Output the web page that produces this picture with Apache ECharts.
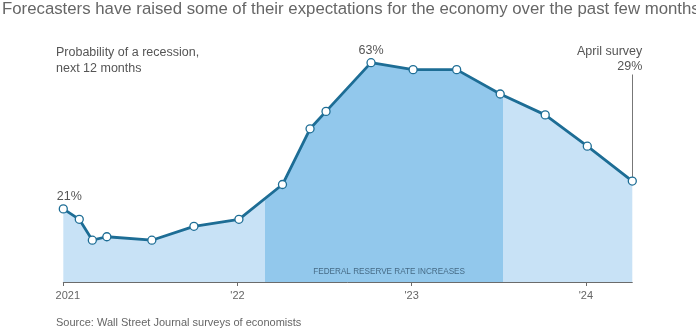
<!DOCTYPE html>
<html><head><meta charset="utf-8">
<script src="https://cdn.jsdelivr.net/npm/echarts@6/dist/echarts.min.js"></script>
<style>html,body{margin:0;padding:0;background:#fff}#chart{width:696px;height:330px}</style>
</head><body><div id="chart"></div>
<script>
// Survey timing, in months since January 2021
const surveyMonths = [0, 1.1, 2, 3, 6.1, 9, 12.1, 15.1, 17, 18.1, 21.2, 24.1, 27.1, 30.1, 33.2, 36.1, 39.2];
// Average probability of a recession within the next 12 months (%)
const recessionProb = [21, 18, 12, 13, 12, 16, 18, 28, 44, 49, 63, 61, 61, 54, 48, 39, 29];
const yearTicks = [0, 12, 24, 36];
const yearLabels = ['2021', "'22", "'23", "'24"];
// Federal Reserve hiking cycle, in the same month units
const fedHikeStart = 13.9;
const fedHikeEnd = 30.3;

const lineColor = '#1d6d95';
const lightFill = '#c8e2f6';
const darkFill = '#92c8ec';
const font = 'Liberation Sans, Arial, sans-serif';

const points = surveyMonths.map((m, i) => [m, recessionProb[i]]);
const lastIdx = points.length - 1;
const peakIdx = recessionProb.indexOf(Math.max(...recessionProb));

const chart = echarts.init(document.getElementById('chart'));

const lineData = points.map((p, i) => {
  const item = { value: p };
  if (i === 0 || i === peakIdx) {
    item.label = {
      show: true, position: 'top', distance: 1,
      offset: i === 0 ? [6, 0] : [0, 0],
      formatter: p[1] + '%', color: '#555', fontSize: 12.5, fontFamily: font
    };
  }
  return item;
});

chart.setOption({
  animation: false,
  title: [
    {
      text: 'Forecasters have raised some of their expectations for the economy over the past few months',
      left: 2, top: 1, padding: 0,
      textStyle: { color: '#666', fontSize: 16.8, fontWeight: 'normal', fontFamily: font }
    },
    {
      text: 'Source: Wall Street Journal surveys of economists',
      left: 56, top: 317, padding: 0,
      textStyle: { color: '#666', fontSize: 11, fontWeight: 'normal', fontFamily: font }
    }
  ],
  grid: { left: 63.3, right: 63.7, top: 38.3, bottom: 48 },
  xAxis: {
    type: 'value', min: 0, max: surveyMonths[lastIdx], interval: 12,
    splitLine: { show: false },
    axisLine: { show: true, lineStyle: { color: '#6b6b6b', width: 1 } },
    axisTick: { show: true, customValues: yearTicks, length: 4, lineStyle: { color: '#6b6b6b' } },
    axisLabel: {
      customValues: yearTicks, margin: 8, color: '#666', fontSize: 11, fontFamily: font,
      formatter: v => {
        const k = yearTicks.indexOf(v);
        if (k < 0) return '';
        return k === 0 ? '{first|' + yearLabels[k] + '}' : yearLabels[k];
      },
      rich: { first: { padding: [0, 0, 0, 9], color: '#666', fontSize: 11, fontFamily: font } }
    }
  },
  yAxis: { type: 'value', min: 0, max: 70, show: false, splitLine: { show: false } },
  visualMap: {
    type: 'piecewise', show: false, dimension: 0, seriesIndex: 0,
    pieces: [{ gte: fedHikeStart, lte: fedHikeEnd, color: darkFill }],
    outOfRange: { color: lightFill }
  },
  series: [
    {
      type: 'line', data: points, symbol: 'none', silent: true, z: 1,
      lineStyle: { width: 0 },
      areaStyle: { opacity: 1 }
    },
    {
      type: 'line', data: lineData, z: 3,
      symbol: 'circle', symbolSize: 8, showAllSymbol: true,
      itemStyle: { color: '#fff', borderColor: lineColor, borderWidth: 1.3 },
      lineStyle: { color: lineColor, width: 2.8 },
      markLine: {
        silent: true, symbol: 'none', z: 2,
        lineStyle: { color: '#777', width: 1, type: 'solid' },
        label: { show: false },
        data: [[{ coord: [surveyMonths[lastIdx], recessionProb[lastIdx]] },
                { coord: [surveyMonths[lastIdx], 59.6] }]]
      }
    }
  ]
});

// Text annotations placed in data space
const lastPx = chart.convertToPixel({ gridIndex: 0 }, points[lastIdx]);
const topPx = chart.convertToPixel({ gridIndex: 0 }, [surveyMonths[lastIdx], 59.6]);
const fedMid = chart.convertToPixel({ gridIndex: 0 }, [(fedHikeStart + fedHikeEnd) / 2, 0]);
chart.setOption({
  graphic: [
    {
      type: 'text', left: 56, top: 45, z: 10,
      style: {
        text: 'Probability of a recession,\nnext 12 months',
        fill: '#555', fontSize: 12.5, lineHeight: 16, fontFamily: font
      }
    },
    {
      type: 'text', x: lastPx[0] + 10, y: topPx[1], z: 10,
      style: {
        text: 'April survey\n' + recessionProb[lastIdx] + '%',
        fill: '#555', fontSize: 12.5, lineHeight: 15, fontFamily: font,
        align: 'right', verticalAlign: 'bottom'
      }
    },
    {
      type: 'text', x: fedMid[0] + 5, y: fedMid[1] - 10.5, scaleX: 0.86, z: 10,
      style: {
        text: 'FEDERAL RESERVE RATE INCREASES',
        fill: '#466b86', fontSize: 9.5, fontFamily: font,
        align: 'center', verticalAlign: 'middle'
      }
    }
  ]
});
</script></body></html>
